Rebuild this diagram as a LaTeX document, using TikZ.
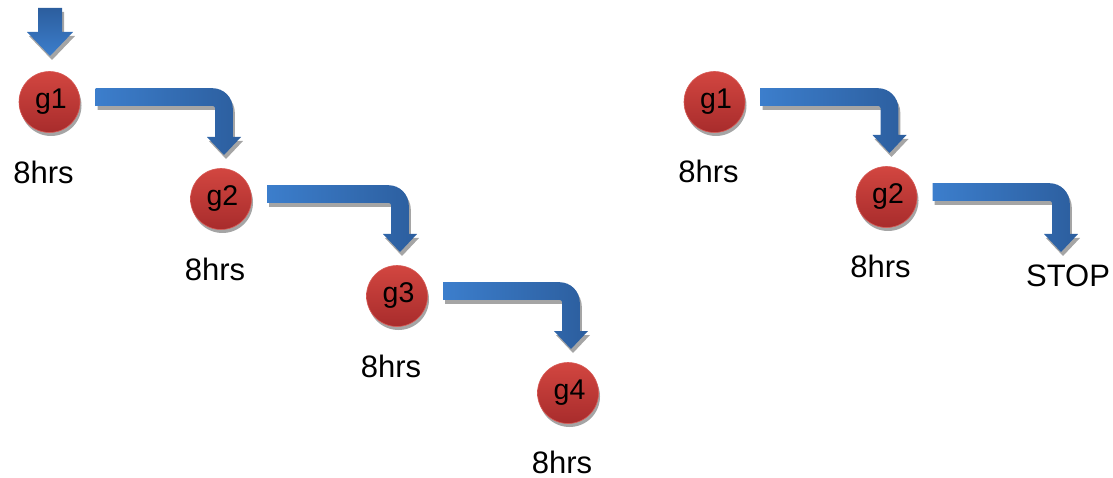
\documentclass[tikz,border=0pt]{standalone}
\usepackage{fontspec}
\setmainfont{Liberation Sans}
\usetikzlibrary{calc,shadows}

\definecolor{ballTop}{RGB}{210,70,64}
\definecolor{ballBottom}{RGB}{168,44,44}
\definecolor{ballEdge}{RGB}{215,90,85}
\definecolor{arrowLight}{RGB}{60,126,204}
\definecolor{arrowDark}{RGB}{44,94,158}
\definecolor{shadowGray}{RGB}{165,165,165}

\tikzset{
  ball/.style={circle, minimum size=61pt, inner sep=0pt,
    top color=ballTop, bottom color=ballBottom, draw=ballEdge, line width=0.6pt,
    drop shadow={shadow xshift=1.5pt, shadow yshift=-3.5pt, fill=shadowGray, opacity=1},
    font=\fontsize{28.5}{31}\selectfont},
  hours/.style={inner sep=0pt, font=\fontsize{31}{36}\selectfont},
  arrowbody/.style={left color=arrowLight, right color=arrowDark},
  arrowbodyv/.style={top color=arrowDark, bottom color=arrowLight},
  arrowshade/.style={fill=shadowGray},
}

% bent block arrow: #1 style, #2 start of the shaft (centre line), #3 tip
\newcommand{\bentshape}[3]{%
  \path[#1] let \p1=(#2), \p2=(#3) in
    ({\x1},{\y1+8.8pt}) -- ({\x2-11.5pt},{\y1+8.8pt})
    arc[start angle=90, end angle=0, radius=20.3pt]
    -- ({\x2+8.8pt},{\y2+18pt}) -- ({\x2+17pt},{\y2+18pt})
    -- ({\x2},{\y2})
    -- ({\x2-17pt},{\y2+18pt}) -- ({\x2-8.8pt},{\y2+18pt})
    -- ({\x2-8.8pt},{\y1-11.5pt})
    arc[start angle=0, end angle=90, radius=2.7pt]
    -- ({\x1},{\y1-8.8pt}) -- cycle;}

% connector between two named nodes; #1 = offset of the tip from the target
\newcommand{\bentarrow}[3][(3,44)]{%
  \bentshape{arrowshade}{$(#2)+(48,1)$}{$(#3)+#1+(2,-4)$}
  \bentshape{arrowbody}{$(#2)+(46,5)$}{$(#3)+#1$}}

% straight downward block arrow: #1 style, #2 top of shaft, #3 tip
\newcommand{\downshape}[3]{%
  \path[#1] let \p1=(#2), \p2=(#3) in
    ({\x2-12pt},{\y1}) -- ({\x2+12pt},{\y1})
    -- ({\x2+12pt},{\y2+24pt}) -- ({\x2+23pt},{\y2+24pt})
    -- ({\x2},{\y2})
    -- ({\x2-23pt},{\y2+24pt}) -- ({\x2-12pt},{\y2+24pt}) -- cycle;}

\begin{document}
\begin{tikzpicture}[x=1pt, y=1pt]
  \useasboundingbox (0,0) rectangle (1113,-478);

  % left chain
  \node[ball] (g1) at (49.5,-102) {\hspace{3pt}g1};
  \node[ball] (g2) at (221,-199) {\hspace{3pt}g2};
  \node[ball] (g3) at (397,-296) {\hspace{3pt}g3};
  \node[ball] (g4) at (568,-393) {\hspace{3pt}g4};

  \node[hours] (h1) at ($(g1)+(-6,-70)$) {8hrs};
  \node[hours] (h2) at ($(g2)+(-6,-70)$) {8hrs};
  \node[hours] (h3) at ($(g3)+(-6,-70)$) {8hrs};
  \node[hours] (h4) at ($(g4)+(-6,-69)$) {8hrs};

  % right chain
  \node[ball] (r1) at (714.5,-102) {\hspace{3pt}g1};
  \node[ball] (r2) at (886.5,-197) {\hspace{3pt}g2};
  \node[hours] (k1) at ($(r1)+(-6,-69)$) {8hrs};
  \node[hours] (k2) at ($(r2)+(-6,-69)$) {8hrs};
  \node[hours] (stop) at (1068,-276) {STOP};

  % entry arrow into g1
  \coordinate (entry) at (50,-8);
  \downshape{arrowshade}{$(entry)+(2,-4)$}{$(g1)+(2.5,42)$}
  \downshape{arrowbodyv}{entry}{$(g1)+(0.5,46)$}

  % connectors
  \bentarrow{g1}{g2}
  \bentarrow{g2}{g3}
  \bentarrow{g3}{g4}
  \bentarrow{r1}{r2}
  \bentarrow[(-7,24)]{r2}{stop}
\end{tikzpicture}
\end{document}
